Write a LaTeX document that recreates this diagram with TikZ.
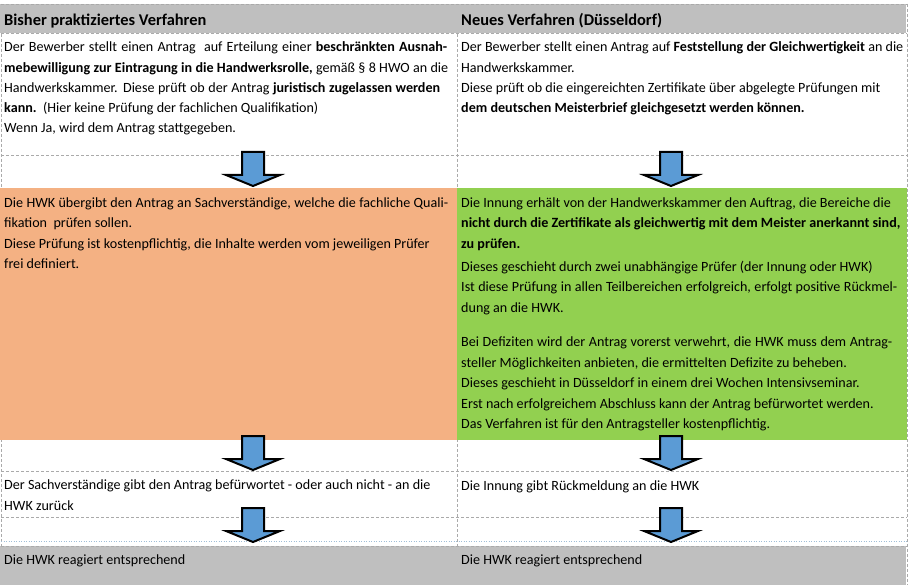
\documentclass[tikz,border=0pt]{standalone}
\usepackage{fontspec}
\setmainfont{Carlito}
\definecolor{hdrgray}{RGB}{191,191,191}
\definecolor{cellorange}{RGB}{244,177,131}
\definecolor{cellgreen}{RGB}{146,208,80}
\definecolor{arrowblue}{RGB}{91,155,213}
\definecolor{gridgray}{RGB}{170,170,170}
\definecolor{dotblue}{RGB}{160,190,215}
\newcommand{\jline}[2]{\makebox[#1pt][s]{#2}}
\tikzset{
  txt/.style={anchor=base west, inner sep=0pt, font=\fontsize{14.1}{17}\selectfont},
  hdr/.style={anchor=base west, inner sep=0pt, font=\fontsize{16.4}{19}\selectfont\bfseries},
  gridline/.style={draw=gridgray, line width=0.8pt, dash pattern=on 3pt off 2pt},
  dotline/.style={draw=dotblue, line width=0.8pt, dash pattern=on 1pt off 1.5pt},
  blockarrow/.style={fill=arrowblue, draw=black, line width=2pt, line join=miter},
  dnarrow/.pic={\path[blockarrow] (-11,0) -- (11,0) -- (11,23) -- (27,23) -- (0,34) -- (-27,23) -- (-11,23) -- cycle;}
}
\begin{document}
\begin{tikzpicture}[x=1pt,y=-1pt]
\useasboundingbox (0,0) rectangle (910,585);
\fill[white] (0,0) rectangle (910,585);
% grid lines
\draw[gridline] (1,4) -- (1,585);
\draw[gridline] (457,4) -- (457,585);
\draw[gridline] (907,4) -- (907,585);
\draw[gridline] (1,155) -- (907,155);
\draw[gridline] (1,471) -- (907,471);
\draw[gridline] (1,517) -- (907,517);
\draw[dotline] (1,541) -- (907,541);
% fills
\fill[hdrgray] (0,4) rectangle (906,33);
\fill[cellorange] (0,188) rectangle (457,440);
\fill[cellgreen] (457,188) rectangle (907,440);
\fill[hdrgray] (0,546) rectangle (906,585);
\draw[gridline] (1,4) -- (907,4);
\draw[gridline] (1,33) -- (907,33);
\draw[gridline] (1,546) -- (907,546);
% header
\node[hdr] (hL) at (4,25.5) {Bisher praktiziertes Verfahren};
\node[hdr] (hR) at (461,25.5) {Neues Verfahren (Düsseldorf)};
% row 1 left
\node[txt] (a1) at (4,52) {\jline{443}{Der Bewerber stellt einen Antrag\ \ auf Erteilung einer \textbf{beschränkten Ausnah-}}};
\node[txt] (a2) at (4,72.2) {\jline{444}{\textbf{mebewilligung zur Eintragung in die Handwerksrolle,} gemäß § 8 HWO an die}};
\node[txt] (a3) at (4,92.4) {\jline{436}{Handwerkskammer. Diese prüft ob der Antrag \textbf{juristisch zugelassen werden}}};
\node[txt] (a4) at (4,112.6) {\textbf{kann.}\ \ (Hier keine Prüfung der fachlichen Qualifikation)};
\node[txt] (a5) at (4,132.8) {Wenn Ja, wird dem Antrag stattgegeben.};
% row 1 right
\node[txt] (b1) at (461,52) {Der Bewerber stellt einen Antrag auf \textbf{Feststellung der Gleichwertigkeit} an die};
\node[txt] (b2) at (461,72.2) {Handwerkskammer.};
\node[txt] (b3) at (461,92.4) {Diese prüft ob die eingereichten Zertifikate über abgelegte Prüfungen mit};
\node[txt] (b4) at (461,112.6) {\textbf{dem deutschen Meisterbrief gleichgesetzt werden können.}};
% colored left
\node[txt] (c1) at (4,207.5) {\jline{444}{Die HWK übergibt den Antrag an Sachverständige, welche die fachliche Quali-}};
\node[txt] (c2) at (4,227.8) {fikation\ \ prüfen sollen.};
\node[txt] (c3) at (4,248.1) {Diese Prüfung ist kostenpflichtig, die Inhalte werden vom jeweiligen Prüfer};
\node[txt] (c4) at (4,268.4) {frei definiert.};
% colored right
\node[txt] (d1) at (461,207.5) {Die Innung erhält von der Handwerkskammer den Auftrag, die Bereiche die};
\node[txt] (d2) at (461,227.8) {\textbf{nicht durch die Zertifikate als gleichwertig mit dem Meister anerkannt sind,}};
\node[txt] (d3) at (461,248.1) {\textbf{zu prüfen.}};
\node[txt] (d4) at (461,271.5) {Dieses geschieht durch zwei unabhängige Prüfer (der Innung oder HWK)};
\node[txt] (d5) at (461,292) {\jline{436}{Ist diese Prüfung in allen Teilbereichen erfolgreich, erfolgt positive Rückmel-}};
\node[txt] (d6) at (461,312.5) {dung an die HWK.};
\node[txt] (d7) at (461,346.5) {\jline{431}{Bei Defiziten wird der Antrag vorerst verwehrt, die HWK muss dem Antrag-}};
\node[txt] (d8) at (461,367) {steller Möglichkeiten anbieten, die ermittelten Defizite zu beheben.};
\node[txt] (d9) at (461,387.5) {Dieses geschieht in Düsseldorf in einem drei Wochen Intensivseminar.};
\node[txt] (d10) at (461,408) {Erst nach erfolgreichem Abschluss kann der Antrag befürwortet werden.};
\node[txt] (d11) at (461,428.5) {Das Verfahren ist für den Antragsteller kostenpflichtig.};
% row after
\node[txt] (e1) at (4,489.5) {Der Sachverständige gibt den Antrag befürwortet - oder auch nicht - an die};
\node[txt] (e2) at (4,510.5) {HWK zurück};
\node[txt] (f1) at (461,490) {Die Innung gibt Rückmeldung an die HWK};
% bottom
\node[txt] (g1) at (4,564.5) {Die HWK reagiert entsprechend};
\node[txt] (g2) at (461,564.5) {Die HWK reagiert entsprechend};
% arrows
\pic at (253,152) {dnarrow};
\pic at (671,152) {dnarrow};
\pic at (253,436) {dnarrow};
\pic at (671,436) {dnarrow};
\pic at (253,508) {dnarrow};
\pic at (671,508) {dnarrow};
\end{tikzpicture}
\end{document}
